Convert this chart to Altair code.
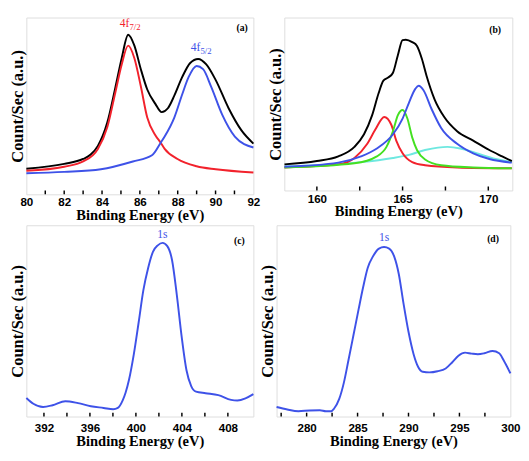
import altair as alt
import pandas as pd

# ---------------- Panel (a) ----------------
a_black_x = [80.0, 82.0, 83.0, 83.4, 83.78, 84.28, 84.70, 85.04, 85.38, 85.71, 86.05, 86.39, 86.81, 87.15, 87.48, 87.82, 88.24, 88.66, 89.08, 89.51, 90.01, 90.69, 91.36, 92.0]
a_black_y = [14.5, 17.2, 20.0, 22.5, 27.4, 40.7, 60.2, 77.0, 90.3, 84.1, 70.8, 59.3, 51.3, 46.5, 48.7, 55.8, 66.4, 74.3, 76.6, 73.5, 64.6, 48.7, 36.3, 28.7]
a_red_x = [80.0, 82.0, 83.0, 83.78, 84.28, 84.70, 85.04, 85.38, 85.71, 86.05, 86.39, 86.81, 87.1, 87.31, 87.99, 89.0, 90.01, 92.0]
a_red_y = [13.3, 15.6, 18.6, 25.7, 38.1, 57.5, 73.5, 84.1, 77.0, 61.1, 43.4, 33.6, 29.2, 25.7, 20.0, 15.9, 14.2, 12.4]
a_blue_x = [80.0, 82.0, 83.94, 85.63, 86.64, 87.1, 87.31, 87.82, 88.24, 88.58, 89.0, 89.34, 89.76, 90.35, 91.02, 92.0]
a_blue_y = [11.9, 12.7, 14.2, 18.6, 22.1, 29.2, 32.7, 43.4, 56.6, 66.4, 72.6, 70.8, 61.1, 45.1, 32.7, 26.5]

# ---------------- Panel (b) ----------------
b_black_x = [158.11, 160.0, 161.25, 162.19, 162.75, 163.22, 163.60, 163.88, 164.16, 164.44, 164.72, 165.0, 165.19, 165.56, 165.84, 166.12, 166.40, 166.87, 167.43, 168.18, 169.12, 170.06, 170.81, 171.37]
b_black_y = [15.1, 17.0, 19.7, 25.2, 32.5, 43.4, 56.2, 63.5, 65.3, 68.1, 78.1, 86.9, 87.2, 85.8, 83.6, 76.3, 66.2, 52.6, 42.5, 34.3, 28.8, 23.4, 19.7, 17.0]
b_red_x = [158.11, 161.25, 162.19, 162.94, 163.41, 163.93, 164.34, 164.63, 165.0, 165.56, 166.31, 168.18, 171.37]
b_red_y = [13.3, 15.1, 18.8, 27.0, 35.2, 42.5, 38.0, 28.8, 21.5, 16.4, 14.6, 13.3, 12.8]
b_green_x = [158.11, 162.19, 163.50, 164.06, 164.44, 164.72, 165.0, 165.28, 165.56, 165.84, 166.31, 167.25, 169.12, 171.37]
b_green_y = [13.3, 15.7, 19.7, 25.2, 34.3, 43.4, 46.5, 41.6, 30.7, 23.4, 17.9, 14.6, 13.3, 12.8]
b_blue_x = [158.11, 161.25, 162.57, 163.50, 164.44, 165.0, 165.37, 165.75, 165.94, 166.22, 166.69, 167.25, 168.18, 169.12, 170.06, 171.37]
b_blue_y = [13.7, 16.1, 19.7, 24.3, 32.5, 41.6, 50.7, 58.9, 60.6, 58.0, 47.1, 36.1, 27.0, 21.5, 18.2, 16.1]
b_cyan_x = [158.11, 160.69, 162.57, 164.44, 165.37, 166.31, 167.06, 167.62, 168.37, 169.31, 170.43, 171.37]
b_cyan_y = [13.9, 15.1, 16.4, 18.8, 20.6, 23.4, 24.8, 25.2, 24.3, 21.5, 18.2, 16.4]

# ---------------- Panel (c) ----------------
c_x = [390.47, 391.08, 391.92, 392.75, 393.86, 394.97, 396.08, 397.19, 398.02, 398.43, 398.85, 399.10, 399.40, 399.82, 400.24, 400.65, 401.07, 401.48, 401.90, 402.32, 402.73, 403.15, 403.56, 403.98, 404.40, 404.81, 405.23, 406.06, 407.17, 408.28, 408.83, 409.53, 410.22]
c_y = [9.7, 6.7, 5.0, 5.9, 8.0, 7.0, 5.4, 4.5, 3.8, 4.5, 8.4, 12.4, 19.2, 32.6, 49.3, 66.1, 77.8, 86.1, 89.5, 90.8, 89.1, 81.6, 63.5, 41.8, 24.2, 15.9, 13.0, 12.2, 11.2, 8.7, 8.4, 9.5, 11.7]

# ---------------- Panel (d) ----------------
d_x = [277.05, 278.1, 279.2, 280.3, 281.3, 281.9, 282.4, 282.7, 283.2, 283.65, 284.1, 284.6, 285.1, 285.55, 286.0, 286.5, 287.1, 287.6, 288.1, 288.6, 289.05, 289.5, 290.0, 290.5, 290.95, 291.4, 292.05, 292.85, 293.65, 294.3, 294.9, 295.55, 296.2, 296.8, 297.45, 298.25, 298.9, 299.35, 300.0]
d_y = [5.0, 3.7, 2.8, 3.2, 3.3, 2.8, 2.8, 4.2, 9.2, 17.6, 29.3, 42.6, 56.0, 67.7, 77.8, 83.6, 87.8, 88.6, 87.8, 83.6, 74.4, 59.4, 44.3, 32.6, 25.9, 23.4, 23.1, 23.7, 25.1, 28.4, 31.8, 33.4, 32.9, 32.6, 33.1, 34.3, 33.1, 29.3, 22.6]

# tick label values / tick positions
a_labels = [80, 82, 84, 86, 88, 90, 92]
a_ticks = [81, 82, 83, 84, 85, 86, 87, 88, 89, 90, 91]
b_labels = [160, 165, 170]
b_ticks = [160, 162.5, 165, 167.5, 170]
c_labels = [392, 396, 400, 404, 408]
c_ticks = [392, 394, 396, 398, 400, 402, 404, 406, 408]
d_labels = [280, 285, 290, 295, 300]
d_ticks = [277.5, 280, 282.5, 285, 287.5, 290, 292.5, 295, 297.5]

RED = "#f2222c"
BLUE = "#3e52e8"
BLACK = "#000000"
GREEN = "#44e021"
CYAN = "#6ee8e0"

SERIF = "Liberation Serif"
SANS = "Liberation Sans"
XTITLE = "Binding Energy (eV)"
YTITLE = "Count/Sec (a.u.)"
Y_MIN = 0
Y_MAX = 100


def panel(series, xdomain, labels, ticks, w, h, texts, label_pad, title_pad):
    xscale = alt.Scale(domain=xdomain, nice=False, zero=False)
    yscale = alt.Scale(domain=[Y_MIN, Y_MAX], nice=False, zero=False)
    yenc = alt.Y("y:Q", scale=yscale,
                 axis=alt.Axis(labels=False, ticks=False, domain=False, grid=False,
                               title=YTITLE, titleFont=SERIF, titleFontSize=17,
                               titleFontWeight="bold", titleColor="black", titlePadding=0))
    label_axis = alt.Axis(values=labels, ticks=False, domain=False, grid=False,
                          labelFont=SANS, labelFontWeight="bold", labelFontSize=12,
                          labelColor="black", labelPadding=label_pad, labelFlush=False,
                          title=XTITLE, titleFont=SERIF, titleFontSize=15,
                          titleFontWeight="bold", titleColor="black", titlePadding=title_pad)
    xenc = alt.X("x:Q", scale=xscale, axis=label_axis)
    layers = []
    for color, xs, ys in series:
        df = pd.DataFrame({"x": xs, "y": ys})
        layers.append(alt.Chart(df).mark_line(strokeWidth=2, interpolate="monotone", color=color).encode(
            x=xenc, y=yenc))
    # inward tick marks on the bottom frame (half of each tick is clipped away)
    tdf = pd.DataFrame({"x": ticks, "y": [Y_MIN] * len(ticks)})
    layers.append(alt.Chart(tdf).mark_tick(orient="vertical", size=8, thickness=1.5,
                                           color="black", clip=True, opacity=1).encode(
        x=xenc, y=yenc))
    for t in texts:
        tdf = pd.DataFrame([{"x": t["x"], "y": t["y"], "t": t["text"]}])
        layers.append(
            alt.Chart(tdf).mark_text(font=t.get("font", SERIF), fontSize=t["size"],
                                     fontWeight=t.get("weight", "normal"), color=t["color"],
                                     align=t.get("align", "center"), baseline="middle",
                                     dy=t.get("dy", 0)).encode(
                x=xenc,
                y=yenc,
                text="t:N",
            )
        )
    return alt.layer(*layers).properties(width=w, height=h)


# text annotations (x/y in data units)
a_texts = [
    {"x": 85.45, "y": 97, "text": "4f", "size": 12, "color": RED, "align": "right"},
    {"x": 85.45, "y": 97, "text": "7/2", "size": 9, "color": RED, "align": "left", "dy": 4},
    {"x": 89.2, "y": 83, "text": "4f", "size": 12, "color": BLUE, "align": "right"},
    {"x": 89.2, "y": 83, "text": "5/2", "size": 9, "color": BLUE, "align": "left", "dy": 4},
    {"x": 91.4, "y": 94, "text": "(a)", "size": 10, "color": "black", "weight": "bold"},
]
b_texts = [
    {"x": 170.4, "y": 93, "text": "(b)", "size": 10, "color": "black", "weight": "bold"},
]
c_texts = [
    {"x": 402.3, "y": 95.5, "text": "1s", "size": 12, "color": BLUE},
    {"x": 409.0, "y": 91.5, "text": "(c)", "size": 10, "color": "black", "weight": "bold"},
]
d_texts = [
    {"x": 287.6, "y": 94, "text": "1s", "size": 12, "color": BLUE},
    {"x": 298.3, "y": 92.5, "text": "(d)", "size": 10, "color": "black", "weight": "bold"},
]

pa = panel([(BLACK, a_black_x, a_black_y), (RED, a_red_x, a_red_y), (BLUE, a_blue_x, a_blue_y)],
           [80, 92], a_labels, a_ticks, 235, 183, a_texts, 3, 0)
pb = panel([(CYAN, b_cyan_x, b_cyan_y), (RED, b_red_x, b_red_y), (GREEN, b_green_x, b_green_y),
            (BLUE, b_blue_x, b_blue_y), (BLACK, b_black_x, b_black_y)],
           [158.1, 171.4], b_labels, b_ticks, 236, 179, b_texts, 3, 0)
pc = panel([(BLUE, c_x, c_y)], [390.47, 410.22], c_labels, c_ticks, 235, 198, c_texts, 6, 1)
pd_ = panel([(BLUE, d_x, d_y)], [277.05, 300.0], d_labels, d_ticks, 242, 198, d_texts, 6, 1)

chart = alt.vconcat(
    alt.hconcat(pa, pb, spacing=5),
    alt.hconcat(pc, pd_, spacing=0),
    spacing=1,
).properties(padding=0).configure_view(stroke="black", strokeWidth=1.5).configure(background="white")

chart.save("out.html", embed_options={"renderer": "svg", "actions": False})
